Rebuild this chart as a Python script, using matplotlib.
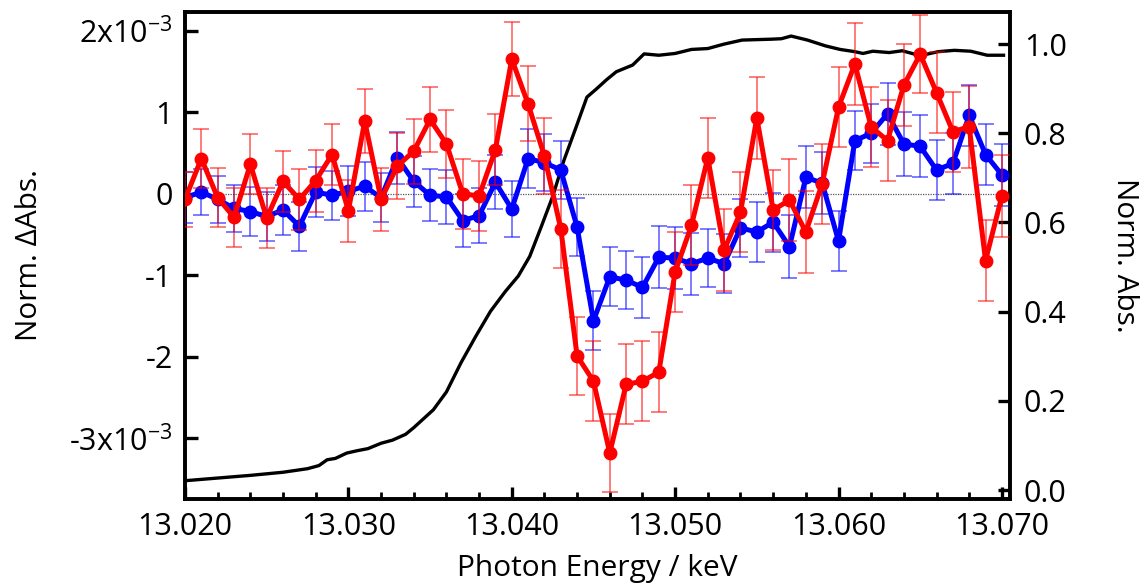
import numpy as np
import matplotlib
matplotlib.use("Agg")
import matplotlib.pyplot as plt

plt.rcParams["font.family"] = ["Open Sans", "DejaVu Sans"]
plt.rcParams["mathtext.default"] = "regular"

# photon energy grid of the difference spectra (keV)
energy = np.linspace(13.020, 13.070, 51)

# normalised difference absorption, units of 1e-3
red_dabs = [-0.07, 0.43, -0.05, -0.29, 0.36, -0.30, 0.15, -0.07, 0.16, 0.48,
            -0.21, 0.89, -0.07, 0.34, 0.52, 0.91, 0.61, 0.00, -0.03, 0.54,
            1.65, 1.10, 0.46, -0.43, -1.99, -2.30, -3.18, -2.34, -2.30, -2.19,
            -0.96, -0.39, 0.44, -0.69, -0.23, 0.93, -0.20, -0.08, -0.47, 0.12,
            1.06, 1.59, 0.82, 0.65, 1.33, 1.71, 1.24, 0.76, 0.82, -0.82,
            -0.03]
red_err = [0.34, 0.36, 0.36, 0.36, 0.37, 0.37, 0.37, 0.37, 0.38, 0.38,
           0.38, 0.39, 0.39, 0.40, 0.40, 0.40, 0.42, 0.43, 0.43, 0.44,
           0.45, 0.46, 0.47, 0.48, 0.48, 0.49, 0.48, 0.49, 0.49, 0.49,
           0.49, 0.49, 0.49, 0.50, 0.49, 0.50, 0.49, 0.50, 0.50, 0.49,
           0.49, 0.50, 0.49, 0.50, 0.50, 0.48, 0.50, 0.49, 0.50, 0.50,
           0.50]

blue_dabs = [-0.05, 0.02, -0.07, -0.18, -0.22, -0.28, -0.20, -0.40, 0.02, -0.02,
             0.03, 0.09, -0.05, 0.44, 0.15, -0.02, -0.04, -0.33, -0.27, 0.14,
             -0.19, 0.43, 0.38, 0.29, -0.41, -1.56, -1.02, -1.06, -1.15, -0.78,
             -0.79, -0.86, -0.79, -0.86, -0.42, -0.47, -0.35, -0.65, 0.20, 0.13,
             -0.58, 0.65, 0.74, 0.98, 0.61, 0.58, 0.29, 0.37, 0.96, 0.48,
             0.23]
blue_err = [0.31, 0.28, 0.29, 0.29, 0.30, 0.30, 0.31, 0.30, 0.31, 0.30,
            0.31, 0.30, 0.30, 0.32, 0.31, 0.32, 0.33, 0.33, 0.34, 0.33,
            0.34, 0.36, 0.35, 0.36, 0.36, 0.36, 0.36, 0.36, 0.37, 0.38,
            0.38, 0.38, 0.36, 0.36, 0.36, 0.37, 0.36, 0.39, 0.38, 0.38,
            0.37, 0.36, 0.36, 0.38, 0.39, 0.38, 0.37, 0.37, 0.37, 0.37,
            0.38]

# ground state XANES (right axis)
xanes_e = [13.0200, 13.0220, 13.0240, 13.0260, 13.0275, 13.0282, 13.0287,
           13.0292, 13.0299, 13.0305, 13.0312, 13.0320, 13.0327, 13.0335,
           13.0340, 13.0346, 13.0352, 13.0360, 13.0369, 13.0378, 13.0387,
           13.0396, 13.0404, 13.0411, 13.0418, 13.0425, 13.0432, 13.0439,
           13.0446, 13.0452, 13.0458, 13.0464, 13.0474, 13.0481, 13.0490,
           13.0500, 13.0510, 13.0520, 13.0530, 13.0541, 13.0550, 13.0559,
           13.0565, 13.0571, 13.0581, 13.0592, 13.0601, 13.0610, 13.0615,
           13.0621, 13.0631, 13.0639, 13.0650, 13.0661, 13.0671, 13.0681,
           13.0691, 13.0701]
xanes_abs = [0.021, 0.027, 0.033, 0.040, 0.048, 0.055, 0.068,
             0.071, 0.083, 0.088, 0.093, 0.105, 0.112, 0.125,
             0.140, 0.160, 0.180, 0.220, 0.286, 0.345, 0.401,
             0.445, 0.480, 0.524, 0.590, 0.658, 0.740, 0.810,
             0.881, 0.900, 0.920, 0.938, 0.953, 0.978, 0.975,
             0.979, 0.988, 0.990, 1.000, 1.009, 1.010, 1.011,
             1.012, 1.018, 1.009, 0.996, 0.988, 0.983, 0.979,
             0.984, 0.981, 0.985, 0.974, 0.983, 0.986, 0.984,
             0.975, 0.975]

left_ticks = [-3, -2, -1, 0, 1, 2]
left_labels = ["-3x10$^{-3}$", "-2", "-1", "0", "1", "2x10$^{-3}$"]
x_ticks = [13.020, 13.030, 13.040, 13.050, 13.060, 13.070]


def main():
    fig = plt.figure(figsize=(11.47, 5.87), dpi=100)
    ax = fig.add_axes([0.1613, 0.1499, 0.8806 - 0.1613, 0.9796 - 0.1499])
    ax2 = ax.twinx()

    ax2.plot(xanes_e, xanes_abs, color="black", lw=2.4, zorder=1)
    ax2.set_ylim(-0.020, 1.072)
    ax2.set_yticks(np.arange(0, 1.01, 0.2))
    ax2.set_yticklabels([f"{v:.1f}" for v in np.arange(0, 1.01, 0.2)])

    ax.set_zorder(ax2.get_zorder() + 1)
    ax.patch.set_visible(False)

    ax.axhline(0, color="#555555", lw=0.9, ls=(0, (1, 1)), zorder=1)

    for vals, errs, col, z in [(blue_dabs, blue_err, "#0000ff", 3),
                               (red_dabs, red_err, "#ff0000", 4)]:
        y = np.array(vals) * 1e-3
        e = np.array(errs) * 1e-3
        _, caps, bars = ax.errorbar(energy, y, yerr=e, fmt="none", ecolor=col,
                                    elinewidth=1.2, capsize=6, capthick=1.2,
                                    zorder=z)
        for c in caps:
            c.set_alpha(0.6)
        for b in bars:
            b.set_alpha(0.6)
        ax.plot(energy, y, color=col, lw=3.6, marker="o", markersize=9,
                zorder=z)

    ax.set_xlim(13.020, 13.0705)
    ax.set_ylim(-3.745e-3, 2.228e-3)
    ax.set_xticks(x_ticks)
    ax.set_xticklabels([f"{v:.3f}" for v in x_ticks])
    ax.set_xticks(np.arange(13.020, 13.0705, 0.002), minor=True)
    ax.set_yticks(np.array(left_ticks) * 1e-3)
    ax.set_yticklabels(left_labels)

    ax.set_xlabel("Photon Energy / keV", fontsize=21.5, labelpad=9)
    ax.set_ylabel("Norm. \u0394Abs.", fontsize=21.5, labelpad=18)
    ax2.set_ylabel("Norm. Abs.", fontsize=21.5, rotation=270, labelpad=52)

    for a in (ax, ax2):
        for s in a.spines.values():
            s.set_linewidth(2.6)
    ax.tick_params(axis="both", which="major", direction="in", length=9,
                   width=2.4, labelsize=22, pad=9)
    ax.tick_params(axis="x", which="minor", direction="in", length=5,
                   width=2.0)
    ax.tick_params(axis="y", right=False)
    ax2.tick_params(axis="y", which="major", direction="in", length=9,
                    width=2.4, labelsize=22, pad=10)

    fig.savefig("out.png", dpi=100)


if __name__ == "__main__":
    main()
